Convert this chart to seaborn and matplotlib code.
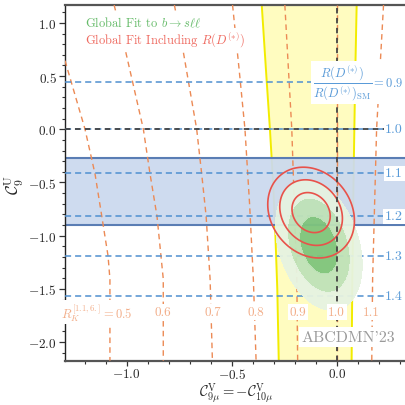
import numpy as np
import pandas as pd
import matplotlib
matplotlib.use("Agg")
import matplotlib.pyplot as plt
import seaborn as sns

# ---- R_K^{[1.1,6]} iso-lines: C9V position sampled along C9U ----
rk_05_u = [0.645, 0.003, -0.42, -0.815, -1.19, -1.41, -2.175]
rk_05_v = [-1.294, -1.199, -1.151, -1.119, -1.089, -1.080, -1.080]
rk_06_u = [1.168, 0.755, 0.003, -0.42, -0.815, -1.407, -2.175]
rk_06_v = [-1.060, -1.008, -0.921, -0.889, -0.856, -0.826, -0.826]
rk_07_u = [1.168, 0.755, 0.003, -0.42, -0.815, -1.407, -2.175]
rk_07_v = [-0.773, -0.733, -0.667, -0.643, -0.622, -0.603, -0.592]
rk_08_u = [1.168, 0.567, 0.003, -0.70, -1.407, -2.175]
rk_08_v = [-0.496, -0.465, -0.437, -0.415, -0.397, -0.384]
rk_09_u = [1.168, 0.003, -1.407, -2.175]
rk_09_v = [-0.247, -0.214, -0.190, -0.186]
rk_10_u = [1.168, -2.175]
rk_10_v = [0.0, 0.0]
rk_11_u = [1.168, 0.003, -1.407, -2.175]
rk_11_v = [0.223, 0.190, 0.171, 0.167]
rk_labels = ["0.5", "0.6", "0.7", "0.8", "0.9", "1.0", "1.1"]
rk_label_v = [-0.970, -0.826, -0.592, -0.384, -0.186, 0.0, 0.167]
rk_label_u = -1.717

# ---- R(D*)/R(D*)_SM iso-lines (horizontal in C9U) ----
rd_ratio = ["0.9", "1.0", "1.1", "1.2", "1.3", "1.4"]
rd_c9u = [0.442, 0.0, -0.414, -0.818, -1.194, -1.564]
rd_band = [-0.899, -0.273]          # measured R(D*) 1 sigma band in C9U

# ---- additional vertical constraint band (edges along C9U) ----
band_u = [1.168, 0.5, 0.0, -0.5, -1.0, -1.5, -2.175]
band_lo = [-0.357, -0.335, -0.318, -0.303, -0.292, -0.283, -0.276]
band_hi = [0.095, 0.088, 0.084, 0.080, 0.077, 0.074, 0.071]

# ---- global fits: best-fit point, widths, correlation ----
fit_bsll = dict(c9v=-0.085, c9u=-1.09, sv=0.060, su=0.178, rho=-0.30)
fit_rd = dict(c9v=-0.122, c9u=-0.783, sv=0.060, su=0.124, rho=-0.18)
dchi2_levels = [2.30, 6.18, 11.83]

xlim = (-1.294, 0.33)
ylim = (-2.175, 1.168)

sns.set_style("ticks")
plt.rcParams.update({
    "font.family": "serif",
    "font.serif": ["cmr10", "DejaVu Serif"],
    "mathtext.fontset": "cm",
    "axes.formatter.use_mathtext": True,
    "axes.unicode_minus": True,
    "xtick.direction": "out",
    "ytick.direction": "out",
})

fig = plt.figure(figsize=(4.06, 4.06), dpi=100)
ax = fig.add_axes([65 / 406, 1 - 361.7 / 406, (406 - 65) / 406, (361.7 - 6) / 406])

# vertical band
ax.fill_betweenx(band_u, band_lo, band_hi, color="#fffcc0", lw=0, zorder=1)
ax.plot(band_lo, band_u, color="#f2ec00", lw=1.4, zorder=1.1)
ax.plot(band_hi, band_u, color="#f2ec00", lw=1.4, zorder=1.1)

# R(D*) band
ax.axhspan(rd_band[0], rd_band[1], color="#cbd9ee", alpha=0.93, lw=0, zorder=2)
for u in rd_band:
    ax.axhline(u, color="#5a7db4", lw=1.5, zorder=2.1)

# R_K iso-lines
rk_u = [rk_05_u, rk_06_u, rk_07_u, rk_08_u, rk_09_u, rk_10_u, rk_11_u]
rk_v = [rk_05_v, rk_06_v, rk_07_v, rk_08_v, rk_09_v, rk_10_v, rk_11_v]
rk_df = pd.concat([pd.DataFrame({"c9v": v, "c9u": u, "level": lab})
                   for u, v, lab in zip(rk_u, rk_v, rk_labels)], ignore_index=True)
sns.lineplot(data=rk_df, x="c9v", y="c9u", units="level", estimator=None, sort=False,
             color="#ec8a55", lw=1.0, dashes=False, ax=ax, zorder=3,
             linestyle=(0, (4, 3)))

# R(D*) iso-lines
for u in rd_c9u:
    ax.axhline(u, color="#4f90d0", lw=1.1, ls=(0, (4, 2.6)), zorder=3.2)

# global fits on a grid
gv = np.linspace(xlim[0], xlim[1], 500)
gu = np.linspace(ylim[0], ylim[1], 500)
V, U = np.meshgrid(gv, gu)


def chi2(p):
    dv = (V - p["c9v"]) / p["sv"]
    du = (U - p["c9u"]) / p["su"]
    r = p["rho"]
    return (dv ** 2 - 2 * r * dv * du + du ** 2) / (1 - r ** 2)


ax.contourf(V, U, chi2(fit_bsll), levels=[0] + dchi2_levels,
            colors=["#7fc47c", "#bfe2b8", "#e6f3e1"], alpha=0.95, zorder=4)
ax.contour(V, U, chi2(fit_rd), levels=dchi2_levels, colors="#e8524a",
           linewidths=1.2, zorder=5)

# SM reference lines
ax.axhline(0, color="#444444", lw=1.3, ls=(0, (3, 2.5)), zorder=6)
ax.axvline(0, color="#444444", lw=1.3, ls=(0, (3, 2.5)), zorder=6)

box = dict(facecolor="white", edgecolor="none", pad=1.2)

# labels of R(D*) lines
ax.text(0.316, rd_c9u[0],
        r"$\dfrac{R(D^{(*)})}{R(D^{(*)})_{\rm SM}} = 0.9$",
        color="#5a9bd8", fontsize=9, ha="right", va="center", bbox=box, zorder=7)
for lab, u in zip(rd_ratio[1:], rd_c9u[1:]):
    ax.text(0.316, u, lab, color="#5a9bd8", fontsize=10, ha="right",
            va="center", bbox=box, zorder=7)

# labels of R_K lines
for lab, v in zip(rk_labels, rk_label_v):
    txt = r"$R_K^{[1.1,6.]} = $" + lab if lab == "0.5" else lab
    ax.text(v, rk_label_u, txt, color="#f2ad88",
            fontsize=9 if lab == "0.5" else 9.5,
            ha="right" if lab == "0.5" else "center", va="center",
            bbox=box, zorder=7)

ax.text(-1.2, 1.005, r"Global Fit to $b \to s\ell\ell$", color="#66bb6a",
        fontsize=9, ha="left", va="center", bbox=box, zorder=7)
ax.text(-1.2, 0.845, r"Global Fit Including $R(D^{(*)})$", color="#ef6a60",
        fontsize=9, ha="left", va="center", bbox=box, zorder=7)

ax.text(0.278, -1.952, "ABCDMN'23", color="#9a9a9a", fontsize=11.5,
        ha="right", va="center", bbox=dict(facecolor="white", edgecolor="none", pad=2),
        zorder=7)

ax.set_xlim(*xlim)
ax.set_ylim(*ylim)
ax.set_xticks([-1.0, -0.5, 0.0])
ax.set_yticks([-2.0, -1.5, -1.0, -0.5, 0.0, 0.5, 1.0])
ax.set_xticks(np.arange(-1.2, 0.35, 0.1), minor=True)
ax.set_yticks(np.arange(-2.1, 1.15, 0.1), minor=True)
ax.tick_params(which="major", length=4, width=0.9, labelsize=9.5, pad=2,
               color="#333333")
ax.tick_params(axis="x", which="major", length=3.5, pad=1)
ax.tick_params(which="minor", length=2.5, width=0.8, color="#333333")

for s in ["top", "bottom", "left"]:
    ax.spines[s].set_color("#555555")
    ax.spines[s].set_linewidth(1.6)
ax.spines["left"].set_linewidth(1.0)
ax.spines["left"].set_color("#222222")
ax.spines["right"].set_visible(False)

ax.set_xlabel(r"$\mathcal{C}_{9\mu}^{\rm V} = -\mathcal{C}_{10\mu}^{\rm V}$",
              fontsize=10.5, va="bottom")
ax.set_ylabel(r"$\mathcal{C}_9^{\rm U}$", fontsize=12)
ax.xaxis.set_label_coords(0.504, (361.7 - 405) / 355.7)
ax.yaxis.set_label_coords(-0.115, 0.497)

fig.savefig("out.png", dpi=100)
